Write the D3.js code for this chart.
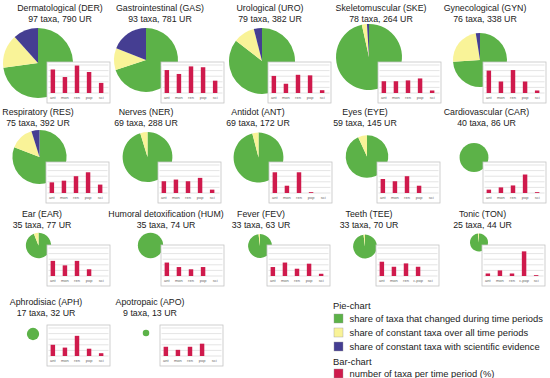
<!DOCTYPE html>
<html><head><meta charset="utf-8">
<script src="https://cdn.jsdelivr.net/npm/d3@7"></script>
<style>body{margin:0;background:#fff}svg{display:block;font-family:"Liberation Sans",Arial,sans-serif}</style>
</head><body><svg id="c" width="550" height="378"></svg>
<script>
// ---------- DATA ----------
const codes = ["DER","GAS","URO","SKE","GYN","RES","NER","ANT","EYE","CAR","EAR","HUM","FEV","TEE","TON","APH","APO"];
const names = ["Dermatological","Gastrointestinal","Urological","Skeletomuscular","Gynecological","Respiratory","Nerves","Antidot","Eyes","Cardiovascular","Ear","Humoral detoxification","Fever","Teeth","Tonic","Aphrodisiac","Apotropaic"];
const taxa = [97,93,79,78,76,75,69,69,59,40,35,35,33,33,25,17,9];
const useReports = [790,781,382,264,338,392,288,172,145,86,77,74,63,70,44,32,13];
// pie shares (%)
const shareChanged    = [72.8,70,85.5,96.5,74,80.8,95.3,96,93.2,100,94,100,98,98,98,100,100];
const shareConstant   = [15.6,11,10.5,2.5,23.5,14.4,4.7,4,6.8,0,6,0,2,2,2,0,0];
const shareScientific = [11.6,19,4,1,2.5,4.8,0,0,0,0,0,0,0,0,0,0,0];
// bar chart: number of taxa per time period (%)
const periods = ["ant","mon","ren","pop","sci"];
const periodsCpop = ["ant","mon","ren","c.pop","sci"];
const cpopPanels = ["TEE","TON"];
const barAnt = [84,82,61,42,80,38,42,74,50,12,54,48,32,51,9,40,33];
const barMon = [57,68,33,42,41,44,48,26,42,20,38,32,48,33,20,30,22];
const barRen = [98,95,65,45,82,60,42,74,60,27,54,24,26,45,9,72,33];
const barPop = [75,92,63,52,41,74,54,3,26,66,24,32,44,33,88,26,44];
const barSci = [36,44,10,9,9,30,12,0,0,3,0,0,8,0,3,10,0];
const yTicks = [0,20,40,60,80,100];
const legendPie = ["share of taxa that changed during time periods","share of constant taxa over all time periods","share of constant taxa with scientific evidence"];
const legendBar = ["number of taxa per time period (%)"];

// ---------- LAYOUT ----------
const rowTitleY = [10.5,114.5,216.5,304.5];
const rowBoxY = [62,162,245,325];
const layout = [
 {r:0,tx:60, px:38, py:63, bx:47, rad:35},
 {r:0,tx:160,px:146,py:60, bx:161, rad:32},
 {r:0,tx:270,px:262,py:61, bx:268, rad:33},
 {r:0,tx:381,px:369,py:57, bx:378, rad:33},
 {r:0,tx:485,px:480,py:60, bx:483, rad:27},
 {r:1,tx:38, px:39.5,py:157,bx:46},
 {r:1,tx:146,px:147.5,py:157,bx:158},
 {r:1,tx:258,px:258.5,py:157.5,bx:269},
 {r:1,tx:365,px:367,py:156.5,bx:377},
 {r:1,tx:486.5,px:474,py:157.5,bx:483},
 {r:2,tx:42, px:38.5,py:245.5,bx:47},
 {r:2,tx:166,px:150.5,py:245.5,bx:161},
 {r:2,tx:261,px:260,py:246,bx:267},
 {r:2,tx:369,px:365,py:246.5,bx:376},
 {r:2,tx:482.5,px:479,py:242.5,bx:482},
 {r:3,tx:46, px:33,py:334,bx:47},
 {r:3,tx:150,px:146,py:333,bx:160}
];
const colors = {changed:"#5cb248", constant:"#f9f398", sci:"#453e92", bar:"#cf1a4c"};
const boxW = 63, boxH = 41;

const svg = d3.select("#c");
const rScale = d3.scaleLinear().domain([0,97]).range([0,35]);
const pie = d3.pie().sort(null).value(d=>d.v);
const arc = d3.arc().innerRadius(0);

codes.forEach((code,i)=>{
  const L = layout[i];
  const g = svg.append("g");
  // titles
  const ty = rowTitleY[L.r];
  g.append("text").attr("x",L.tx).attr("y",ty).attr("text-anchor","middle")
    .attr("font-size",8.8).attr("fill","#222").text(`${names[i]} (${code})`);
  g.append("text").attr("x",L.tx).attr("y",ty+11).attr("text-anchor","middle")
    .attr("font-size",8.8).attr("fill","#222").text(`${taxa[i]} taxa, ${useReports[i]} UR`);
  // pie
  const slices = [
    {k:"changed",v:shareChanged[i]},
    {k:"constant",v:shareConstant[i]},
    {k:"sci",v:shareScientific[i]}];
  const R = L.rad != null ? L.rad : rScale(taxa[i]);
  g.append("g").attr("transform",`translate(${L.px},${L.py})`)
    .selectAll("path").data(pie(slices)).join("path")
    .attr("d",d=>arc.outerRadius(R)(d)).attr("fill",d=>colors[d.data.k]);
  // inset
  const by = rowBoxY[L.r];
  const inset = g.append("g").attr("transform",`translate(${L.bx},${by})`);
  inset.append("rect").attr("x",0).attr("y",0).attr("width",boxW).attr("height",boxH)
    .attr("fill","#fff").attr("stroke","#c4c4c4").attr("stroke-width",0.8);
  const labels = cpopPanels.includes(code) ? periodsCpop : periods;
  const x = d3.scaleBand().domain(labels).range([0,60]).paddingInner(0.63).paddingOuter(0.3);
  const y = d3.scaleLinear().domain([0,100]).range([31,3]);
  inset.append("g").selectAll("line").data(yTicks).join("line")
    .attr("x1",1.5).attr("x2",boxW-1.5).attr("y1",d=>y(d)).attr("y2",d=>y(d))
    .attr("stroke","#d2d2d2").attr("stroke-width",0.6);
  const vals = [barAnt[i],barMon[i],barRen[i],barPop[i],barSci[i]];
  inset.append("g").selectAll("rect").data(vals).join("rect")
    .attr("x",(d,j)=>x(labels[j])).attr("width",x.bandwidth())
    .attr("y",d=>y(d)).attr("height",d=>y(0)-y(d)).attr("fill",colors.bar);
  const xAxis = inset.append("g").attr("transform","translate(0,31)")
    .call(d3.axisBottom(x).tickSize(0).tickPadding(3.5));
  xAxis.select(".domain").remove();
  xAxis.selectAll("text").attr("font-size",4).attr("fill","#666").attr("font-family","Liberation Sans, Arial, sans-serif");
});

// legend
const lg = svg.append("g").attr("font-size",9.4).attr("fill","#222");
lg.append("text").attr("x",333).attr("y",308.5).text("Pie-chart");
const pieKeys = ["changed","constant","sci"];
legendPie.forEach((t,k)=>{
  const yy = 314 + k*14;
  lg.append("rect").attr("x",334).attr("y",yy).attr("width",9).attr("height",9)
    .attr("fill",colors[pieKeys[k]]).attr("stroke","#999").attr("stroke-width",0.4);
  lg.append("text").attr("x",349.5).attr("y",yy+7.8).text(t);
});
lg.append("text").attr("x",333).attr("y",364.5).text("Bar-chart");
legendBar.forEach((t,k)=>{
  const yy = 369;
  lg.append("rect").attr("x",334).attr("y",yy).attr("width",9).attr("height",9)
    .attr("fill",colors.bar).attr("stroke","#999").attr("stroke-width",0.4);
  lg.append("text").attr("x",349.5).attr("y",yy+7.8).text(t);
});
</script></body></html>
